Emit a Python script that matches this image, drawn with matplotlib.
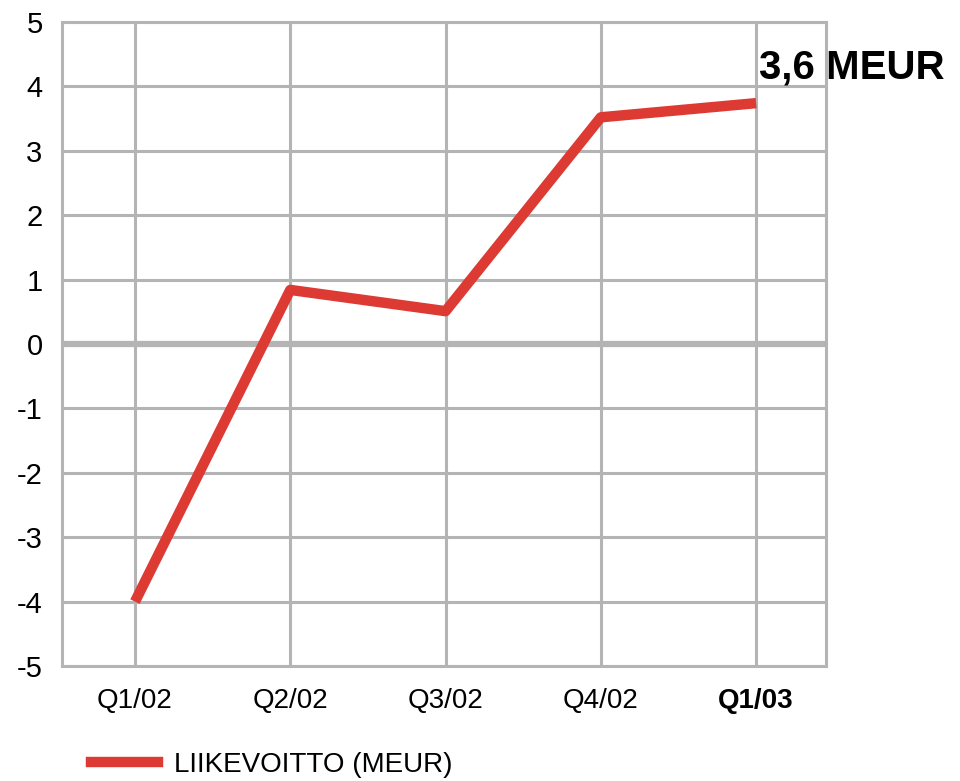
import matplotlib
matplotlib.use('Agg')
import matplotlib.pyplot as plt
from matplotlib.lines import Line2D

plt.rcParams['font.family'] = ['Liberation Sans', 'DejaVu Sans']

quarters = ['Q1/02', 'Q2/02', 'Q3/02', 'Q4/02', 'Q1/03']
liikevoitto = [-4.0, 0.84, 0.51, 3.52, 3.74]
yticks = [5, 4, 3, 2, 1, 0, -1, -2, -3, -4, -5]
red = '#dd3a33'
grey = '#b4b4b4'

fig = plt.figure(figsize=(9.6, 7.81), dpi=100)
ax = fig.add_axes([62/960, 1 - 666/781, (826-62)/960, (666-22)/781])

x = list(range(len(quarters)))
ax.set_xlim(-0.47, 4.45)
ax.set_ylim(-5, 5)

for yv in yticks:
    ax.axhline(yv, color=grey, lw=4.5 if yv == 0 else 2.2, zorder=1)
for xv in x:
    ax.axvline(xv, color=grey, lw=2.2, zorder=1)

ax.plot(x, liikevoitto, color=red, lw=7.5, solid_capstyle='butt', zorder=3)

for s in ['left', 'right', 'top', 'bottom']:
    ax.spines[s].set_color(grey)
    ax.spines[s].set_linewidth(2.2)

ax.set_yticks(yticks)
ax.set_yticklabels([str(v) for v in yticks], fontsize=21)
ax.set_xticks(x)
ax.set_xticklabels(quarters, fontsize=20)
ax.get_xticklabels()[-1].set_fontweight('bold')
ax.tick_params(length=0)
ax.tick_params(axis='y', pad=14)
ax.tick_params(axis='x', pad=16)

ax.text(4.02, 4.12, '3,6 MEUR', fontsize=29, fontweight='bold', ha='left', va='baseline',
        clip_on=False)

fig.legend([Line2D([0], [0], color=red, lw=7.5)], ['LIIKEVOITTO (MEUR)'],
           loc='center left', bbox_to_anchor=(66/960, 1 - 765/781), frameon=False,
           fontsize=20, handlelength=2.4, handletextpad=0.6)

fig.savefig('out.png', dpi=100)
